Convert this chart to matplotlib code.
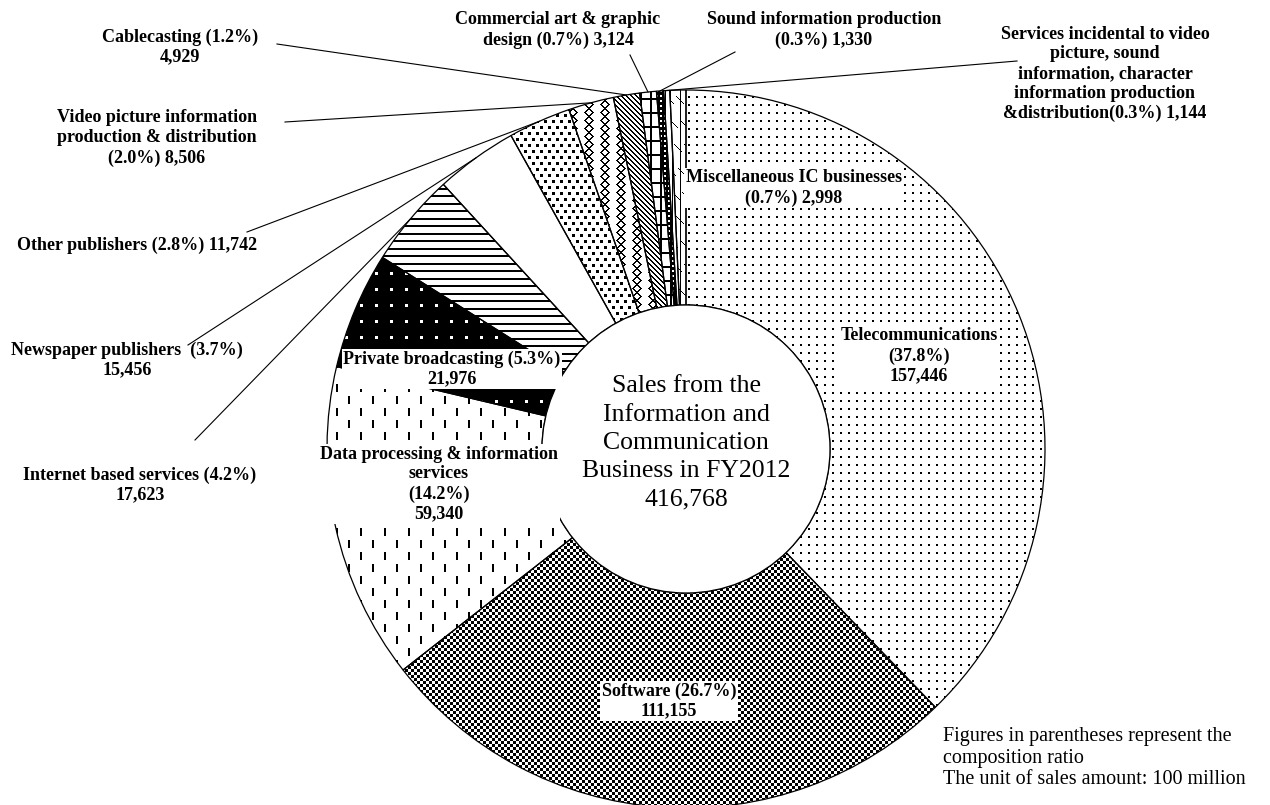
"""
Donut chart: sales of the information and communication business, FY2012
"""
import numpy as np
import matplotlib
matplotlib.use('Agg')
import matplotlib.pyplot as plt

plt.rcParams.update({
    'font.family': ['Liberation Serif', 'DejaVu Serif'],
    'font.size': 13,
})

W, H = 1270, 805

# sales in 100 million yen, clockwise from 12 o'clock
names = ['Telecommunications', 'Software', 'Data processing & information services',
         'Private broadcasting', 'Internet based services', 'Newspaper publishers',
         'Other publishers', 'Video picture information production & distribution',
         'Cablecasting', 'Commercial art & graphic design', 'Sound information production',
         'Services incidental', 'Miscellaneous IC businesses']
values = [157446, 111155, 59340, 21976, 17623, 15456, 11742, 8506, 4929, 3124, 1330, 1144, 2998]
shares = [37.8, 26.7, 14.2, 5.3, 4.2, 3.7, 2.8, 2.0, 1.2, 0.7, 0.3, 0.3, 0.7]
total_text = '416,768'

label_tpl = [
    'Telecommunications\n({p}%)\n{v}',
    'Software ({p}%)\n{v}',
    'Data processing & information\nservices\n({p}%)\n{v}',
    'Private broadcasting ({p}%)\n{v}',
    'Internet based services ({p}%)\n{v}',
    'Newspaper publishers  ({p}%)\n{v}',
    'Other publishers ({p}%) {v}',
    'Video picture information\nproduction & distribution\n({p}%) {v}',
    'Cablecasting ({p}%)\n{v}',
    'Commercial art & graphic\ndesign ({p}%) {v}',
    'Sound information production\n({p}%) {v}',
    'Services incidental to video\npicture, sound\ninformation, character\ninformation production\n&distribution({p}%) {v}',
    'Miscellaneous IC businesses\n({p}%) {v}',
]
textures = ['dots', 'checker', 'dashes', 'holes', 'hlines', 'blank', 'squares',
            'waves', 'diag', 'grid', 'dense', 'vline', 'misc']

# label centre (px from top-left), leader start or None for labels inside the ring
layout = [
    ((919, 356), None),
    ((669, 701), None),
    ((439, 484), None),
    ((452, 369), None),
    ((140, 485), (195, 440)),
    ((127, 360), (188, 345)),
    ((137, 245), (247, 232)),
    ((157, 138), (285, 122)),
    ((180, 47), (277, 44)),
    ((558, 30), (630, 55)),
    ((824, 30), (735, 52)),
    ((1105, 74), (1017, 61)),
    ((794, 188), None),
]

CX, CY, R_OUT, R_IN = 686, 449, 359, 144

yy, xx = np.mgrid[0:H, 0:W]


def texture(kind):
    X, Y = xx, yy
    if kind == 'dots':
        ink = (X % 8 < 2) & (Y % 8 < 2)
    elif kind == 'checker':
        ink = (X // 3 + Y // 3) % 2 == 0
    elif kind == 'dashes':
        row = Y // 12
        ink = ((X + (row % 2) * 12) % 24 < 2) & (Y % 12 < 8)
    elif kind == 'holes':
        ink = ~((X % 15 < 3) & (Y % 16 < 3))
    elif kind == 'hlines':
        ink = (Y % 15 < 2) | ((Y + 7) % 15 < 2)
    elif kind == 'squares':
        row = Y // 6
        ink = ((X + (row % 2) * 4) % 8 < 3) & (Y % 6 < 3)
    elif kind == 'waves':
        t = np.abs((Y % 16) - 8)
        ink = ((X + t) % 16 < 2) | ((X - t + 8) % 16 < 2)
    elif kind == 'diag':
        ink = (X - Y) % 5 < 2
    elif kind == 'grid':
        ink = (X % 10 < 2) | (Y % 14 < 2)
    elif kind == 'dense':
        ink = ~((X % 4 < 2) & (Y % 5 < 2))
    elif kind == 'vline':
        ink = X % 7 == 0
    elif kind == 'misc':
        ink = (X % 10 == 0) | (((X - Y) % 10 == 0) & (Y % 24 < 8))
    else:
        ink = np.zeros_like(X, dtype=bool)
    return np.where(ink, 0.0, 1.0)


fig = plt.figure(figsize=(W / 100, H / 100), dpi=100)
ax = fig.add_axes([0, 0, 1, 1])

wedges, _ = ax.pie(values, radius=R_OUT, center=(CX, H - CY), startangle=90,
                   counterclock=False,
                   wedgeprops=dict(width=R_OUT - R_IN, edgecolor='black',
                                   linewidth=0.9, facecolor='none'))
for w, kind in zip(wedges, textures):
    w.set_zorder(3)
    im = ax.imshow(texture(kind), cmap='gray', vmin=0, vmax=1, origin='upper',
                   extent=(0, W, 0, H), interpolation='nearest', zorder=2)
    im.set_clip_path(w)

ax.add_patch(plt.Circle((CX, H - CY), R_IN, facecolor='white', edgecolor='black',
                        linewidth=0.9, zorder=4))
ax.text(CX, H - 443, 'Sales from the\nInformation and\nCommunication\nBusiness in FY2012\n'
        + total_text, ha='center', va='center', fontsize=18.5, linespacing=1.37, zorder=6)

for w, tpl, share, val, ((lx, ly), lead) in zip(wedges, label_tpl, shares, values, layout):
    txt = tpl.format(p=f'{share:.1f}', v=f'{val:,}')
    kw = dict(ha='center', va='center', fontweight='bold', fontsize=13,
              linespacing=1.22, zorder=6)
    if lead is None:
        kw['bbox'] = dict(boxstyle='square,pad=0.1', facecolor='white', edgecolor='none')
    ax.text(lx, H - ly, txt, **kw)
    if lead is not None:
        mid = np.deg2rad((w.theta1 + w.theta2) / 2)
        ex, ey = CX + R_OUT * np.cos(mid), (H - CY) + R_OUT * np.sin(mid)
        ax.plot([lead[0], ex], [H - lead[1], ey], color='black', lw=0.8, zorder=5)

ax.text(943, H - 758, 'Figures in parentheses represent the\ncomposition ratio\n'
        'The unit of sales amount: 100 million', ha='left', va='center',
        fontsize=14.5, linespacing=1.2, zorder=6)

ax.set_xlim(0, W)
ax.set_ylim(0, H)
ax.set_aspect('equal')
ax.axis('off')
fig.savefig('out.png', dpi=100)
